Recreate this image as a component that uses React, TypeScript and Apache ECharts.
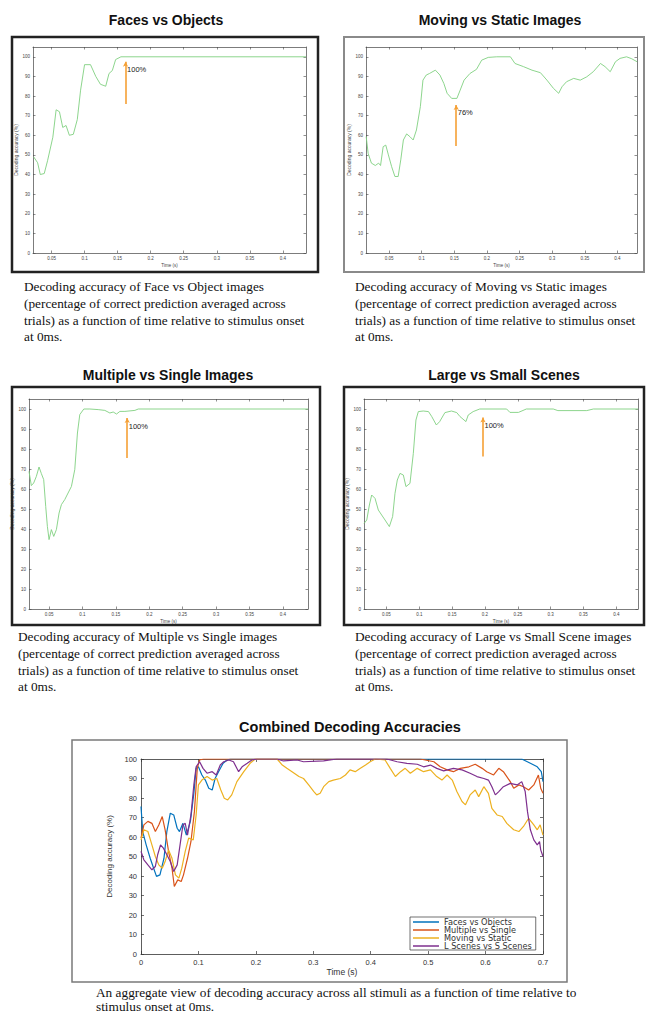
import React, { useEffect, useRef } from 'react';
import * as echarts from 'echarts';

const W = 646;
const H = 1013;

// ---------- Data (time in ms, accuracy in %) ----------
const facesT = [23, 29, 33, 39, 44, 52, 57, 62, 67, 72, 77, 83, 89, 94, 100, 109, 117, 124, 132, 137, 142, 147, 155, 435];
const facesV = [49, 46, 40, 40.5, 47, 59, 73, 72, 64, 65, 60, 60.5, 68, 83, 96, 96, 90, 86, 85, 91.5, 93, 98.6, 100, 100];

const movingT = [15, 18, 23, 29, 34, 37, 41, 45, 49, 54, 59, 64, 68, 72, 77, 82, 87, 92, 98, 102, 107, 112, 121, 128, 134, 139, 146, 154, 159, 165, 174, 184, 192, 202, 215, 236, 243, 256, 269, 282, 292, 302, 310, 315, 322, 333, 343, 353, 363, 374, 381, 389, 397, 404, 414, 422, 430];
const movingV = [59.3, 50.8, 45.8, 44.6, 45.8, 44.6, 54.2, 55, 50, 44, 39, 39, 47.5, 57.6, 60.7, 59.3, 57.6, 62.7, 74.6, 88.1, 90.7, 91.5, 93.2, 90.7, 86.4, 81.4, 78.8, 78.8, 83, 88.1, 91.5, 93.6, 98.3, 99.7, 100, 100, 96.6, 95, 93.2, 91.9, 88.1, 83.9, 81.4, 84.7, 87.3, 89, 88.1, 89.8, 92.4, 96.6, 95, 92.4, 97.5, 99.2, 100, 99, 97.5];

const multipleT = [20, 23.5, 27, 31, 35, 38.5, 42, 45, 47.5, 50, 53.5, 57, 61, 65, 68.5, 73.5, 78.5, 83.5, 88.5, 92.5, 96, 102, 111, 123.5, 133.5, 141, 146, 151, 156, 163.5, 178.5, 183.5, 437.5];
const multipleV = [68.8, 61.7, 63, 66.3, 71, 67.7, 64.7, 51.3, 41.3, 34.7, 39.7, 36.3, 39.7, 48, 52.2, 54.7, 58, 61.3, 69.7, 88, 97.2, 100, 100, 99.7, 99.3, 98, 98.5, 97.5, 98.8, 98.8, 99.3, 100, 100];

const scenesT = [16, 20, 24, 27.5, 32.6, 37.6, 42.7, 47.8, 54.4, 59.4, 63, 66.5, 70.6, 75.7, 79.7, 85.8, 90.9, 94.9, 98.5, 106, 114, 119, 126, 131, 139, 149, 157, 162, 171, 174.5, 182, 192, 233, 238, 251, 263, 304, 311, 355, 365, 433];
const scenesV = [42.8, 44.5, 52, 57, 55.3, 49.5, 47, 44.5, 41.2, 46.2, 57.8, 64.5, 67.8, 67, 61.2, 62.8, 77.8, 94.5, 98.7, 99, 98.7, 96.2, 92, 93.7, 98.2, 99, 98.2, 96.2, 93.7, 97, 98.7, 100, 100, 98.3, 98.3, 100, 100, 99.2, 99.2, 100, 100];

// arrows: time ms, from %, to %, label
const arrowTimes = [162, 153, 167, 197];
const arrowFrom = [76, 54.6, 75.5, 76.2];
const arrowTo = [97.5, 75.4, 95.5, 95.8];
const arrowLabels = ['100%', '76%', '100%', '100%'];

// combined
const combNames = ['Faces vs Objects', 'Multiple vs Single', 'Moving vs Static', 'L Scenes vs S Scenes'];
const blueT = [0, 3, 9, 16, 22, 27, 33, 40, 45, 51, 57, 63, 67, 73, 79, 86, 92, 96, 100, 106, 112, 118, 124, 129, 135, 143, 150, 156, 663, 678, 690, 697, 700];
const blueV = [75.6, 62.8, 56, 49.1, 44, 39.8, 40.6, 49.1, 62.8, 72.2, 71.3, 64.5, 62.8, 67, 61, 68, 82.4, 95.2, 96, 91.8, 89.2, 85, 84.1, 90, 93.5, 97.8, 99.5, 100, 100, 97.8, 96, 93.5, 88.4];
const orangeT = [0, 5, 12, 19, 25, 31, 37, 42, 48, 54, 58, 64, 70, 74, 81, 87, 93, 98, 102, 109, 486, 510, 521, 533, 544, 556, 571, 582, 594, 602, 614, 623, 631, 643, 649, 658, 666, 675, 684, 692, 696, 700];
const orangeV = [59.4, 66.2, 68, 67, 62.8, 66.2, 70.5, 63.7, 52.6, 44, 34.6, 38, 37.2, 40.6, 49.1, 57.7, 73, 95.2, 99.5, 100, 100, 98.6, 96, 94.4, 93.5, 95.2, 96, 97.3, 95.2, 93.5, 91.8, 95.2, 93.5, 88.4, 85, 86.7, 85.8, 84.1, 86.7, 91.8, 85, 82.4];
const yellowT = [0, 5, 12, 19, 25, 31, 37, 42, 48, 54, 60, 66, 71, 77, 83, 91, 96, 100, 106, 115, 124, 132, 139, 145, 151, 158, 167, 179, 190, 199, 237, 246, 254, 263, 275, 283, 292, 301, 306, 312, 318, 327, 335, 347, 356, 364, 373, 382, 391, 399, 408, 425, 434, 443, 452, 460, 469, 481, 492, 504, 515, 524, 533, 542, 550, 559, 565, 573, 582, 588, 597, 605, 611, 620, 629, 637, 649, 658, 666, 675, 684, 690, 695, 700];
const yellowV = [58.5, 63.7, 62.8, 56, 50, 45.7, 44, 47.4, 53.4, 49.1, 40.6, 38.9, 44, 52.6, 59.4, 58.5, 71.3, 86.7, 89.2, 91, 89.2, 90, 84.1, 79.9, 79, 81.6, 88.4, 93.5, 97.8, 100, 100, 96.9, 95.2, 93.5, 91, 90, 86.7, 83.3, 81.6, 82.4, 85.8, 88.4, 89.2, 90, 91.8, 94.4, 93.5, 95.2, 96.9, 98.6, 100, 99.5, 95.2, 91, 93.5, 95.2, 92.7, 95.2, 93.5, 94.4, 91, 89.2, 91.8, 89.2, 83.3, 78.2, 76.5, 81.6, 84.1, 80.7, 85.8, 82.4, 74.7, 71.3, 70.5, 67, 63.7, 62.8, 65.4, 69.6, 66.2, 63.7, 66.2, 61];
const purpleT = [0, 5, 12, 19, 25, 29, 34, 39, 45, 51, 57, 63, 68, 73, 77, 81, 87, 92, 96, 102, 108, 115, 124, 131, 138, 144, 153, 161, 170, 176, 185, 193, 202, 237, 248, 272, 283, 318, 341, 428, 446, 463, 481, 492, 504, 515, 527, 544, 559, 573, 585, 597, 605, 611, 617, 623, 631, 643, 655, 663, 669, 673, 678, 684, 690, 694, 696, 700];
const purpleV = [52.6, 48.3, 45.7, 43.2, 44.9, 50.9, 56, 54.3, 50.9, 47.4, 42.3, 45.7, 56, 66.2, 67, 61, 71.3, 86.7, 96, 98.6, 95.2, 92.7, 93.5, 91.8, 96.9, 98.6, 99.5, 98.6, 93.5, 96, 97.8, 99.5, 100, 100, 99, 99.5, 98.6, 99, 100, 100, 98.6, 97.8, 97.3, 96, 96.9, 95.2, 93.9, 95.2, 94.4, 92.7, 91, 90, 89.2, 85.8, 81.6, 83.3, 85.8, 87.5, 86.7, 88.4, 83.3, 73, 63.7, 58.5, 56, 57.7, 53.4, 50];

const smallXTicks = [0.05, 0.1, 0.15, 0.2, 0.25, 0.3, 0.35, 0.4];
const smallYTicks = [0, 10, 20, 30, 40, 50, 60, 70, 80, 90, 100];

const panelTitles = ['Faces vs Objects', 'Moving vs Static Images', 'Multiple vs Single Images', 'Large vs Small Scenes'];
const panelCaptions = [
  'Decoding accuracy of Face vs Object images\n(percentage of correct prediction averaged across\ntrials) as a function of time relative to stimulus onset\nat 0ms.',
  'Decoding accuracy of Moving vs Static images\n(percentage of correct prediction averaged across\ntrials) as a function of time relative to stimulus onset\nat 0ms.',
  'Decoding accuracy of Multiple vs Single images\n(percentage of correct prediction averaged across\ntrials) as a function of time relative to stimulus onset\nat 0ms.',
  'Decoding accuracy of Large vs Small Scene images\n(percentage of correct prediction averaged across\ntrials) as a function of time relative to stimulus onset\nat 0ms.',
];
const combTitle = 'Combined Decoding Accuracies';
const combCaption = 'An aggregate view of decoding accuracy across all stimuli as a function of time relative to\nstimulus onset at 0ms.';

// ---------- Layout ----------
const panels = [
  { grid: { left: 33, top: 47, width: 273, height: 206 }, xMin: 0.022, xMax: 0.435, frame: [12, 37, 306, 235], frameColor: '#222', frameW: 2.5, title: [166, 20], cap: [24, 278] },
  { grid: { left: 366, top: 47, width: 271, height: 206 }, xMin: 0.0147, xMax: 0.43, frame: [344, 37, 300, 235], frameColor: '#8a8a8a', frameW: 2, title: [500, 20], cap: [355, 278] },
  { grid: { left: 29, top: 399, width: 279, height: 210 }, xMin: 0.02, xMax: 0.4375, frame: [12, 387, 308, 238], frameColor: '#222', frameW: 2.5, title: [168, 375], cap: [18, 628] },
  { grid: { left: 364, top: 399, width: 274, height: 210 }, xMin: 0.0158, xMax: 0.433, frame: [344, 387, 300, 238], frameColor: '#222', frameW: 2.5, title: [504, 375], cap: [355, 628] },
];
const panelData = [[facesT, facesV], [movingT, movingV], [multipleT, multipleV], [scenesT, scenesV]];
const combData = [[blueT, blueV], [orangeT, orangeV], [yellowT, yellowV], [purpleT, purpleV]];
const combColors = ['#0072BD', '#D95319', '#EDB120', '#7E2F8E'];

const pairs = (t: number[], v: number[]) => {
  const n = Math.min(t.length, v.length);
  const out: number[][] = [];
  for (let i = 0; i < n; i++) out.push([t[i] / 1000, v[i]]);
  return out;
};

const SANS = 'Liberation Sans';
const SERIF = 'Liberation Serif';
const DEJA = 'DejaVu Sans';
const AX = '#444';

function buildOption() {
  const grids: any[] = [];
  const xAxes: any[] = [];
  const yAxes: any[] = [];
  const series: any[] = [];
  const graphics: any[] = [];

  panels.forEach((p, i) => {
    grids.push({ ...p.grid, show: false, containLabel: false });
    const fmt = (v: number) => String(+v.toFixed(2));
    const baseX = {
      gridIndex: i, type: 'value', min: p.xMin, max: p.xMax,
      axisLine: { show: true, onZero: false, lineStyle: { color: AX, width: 0.7 } },
      axisTick: { show: true, inside: true, length: 2.5, customValues: smallXTicks, lineStyle: { color: AX, width: 0.6 } },
      splitLine: { show: false },
    };
    xAxes.push({
      ...baseX, position: 'bottom',
      axisLabel: { customValues: smallXTicks, fontSize: 4.5, color: AX, margin: 3, fontFamily: SANS, formatter: fmt },
      name: 'Time (s)', nameLocation: 'middle', nameGap: 10, nameTextStyle: { fontSize: 4.5, color: AX, fontFamily: SANS },
    });
    xAxes.push({ ...baseX, position: 'top', axisLabel: { show: false } });
    const baseY = {
      gridIndex: i, type: 'value', min: 0, max: 105,
      axisLine: { show: true, onZero: false, lineStyle: { color: AX, width: 0.7 } },
      axisTick: { show: true, inside: true, length: 2.5, customValues: smallYTicks, lineStyle: { color: AX, width: 0.6 } },
      splitLine: { show: false },
    };
    yAxes.push({
      ...baseY, position: 'left',
      axisLabel: { customValues: smallYTicks, fontSize: 4.5, color: AX, margin: 3, fontFamily: SANS },
      name: 'Decoding accuracy (%)', nameLocation: 'middle', nameGap: 13, nameTextStyle: { fontSize: 5, color: AX, fontFamily: SANS },
    });
    yAxes.push({ ...baseY, position: 'right', axisLabel: { show: false } });

    const [t, v] = panelData[i];
    const at = arrowTimes[i] / 1000;
    series.push({
      type: 'line', name: 'panel' + i, xAxisIndex: 2 * i, yAxisIndex: 2 * i,
      data: pairs(t, v), showSymbol: false, symbol: 'none',
      lineStyle: { color: '#80d080', width: 0.9 }, itemStyle: { color: '#80d080' },
      markLine: {
        silent: true, symbol: ['none', 'arrow'], symbolSize: [4, 5], precision: 4,
        lineStyle: { color: '#F5A035', width: 1.6, type: 'solid' },
        label: { show: false },
        emphasis: { disabled: true },
        data: [[{ coord: [at, arrowFrom[i]] }, { coord: [at, arrowTo[i]] }]],
      },
      markPoint: {
        silent: true, symbol: 'circle', symbolSize: 1,
        itemStyle: { color: 'rgba(0,0,0,0)' },
        label: { show: true, position: 'right', distance: 1, formatter: arrowLabels[i], fontSize: 7.5, color: '#222', fontFamily: SANS },
        data: [{ coord: [at, arrowTo[i] - 4] }],
      },
    });

    graphics.push({
      type: 'rect', shape: { x: p.frame[0], y: p.frame[1], width: p.frame[2], height: p.frame[3] },
      style: { fill: 'none', stroke: p.frameColor, lineWidth: p.frameW }, silent: true, z: 10,
    });
    graphics.push({
      type: 'text', x: p.title[0], y: p.title[1],
      style: { text: panelTitles[i], fontSize: 14, fontWeight: 'bold', fontFamily: SANS, fill: '#111', align: 'center', verticalAlign: 'middle' },
    });
    graphics.push({
      type: 'text', x: p.cap[0], y: p.cap[1],
      style: { text: panelCaptions[i], fontSize: 13.3, fontFamily: SERIF, fill: '#111', lineHeight: 16.8, align: 'left', verticalAlign: 'top' },
    });
  });

  // combined panel
  const ci = 4;
  grids.push({ left: 141, top: 759, width: 402, height: 195, show: false });
  const cbx = {
    gridIndex: ci, type: 'value', min: 0, max: 0.7, interval: 0.1,
    axisLine: { show: true, onZero: false, lineStyle: { color: '#333', width: 0.8 } },
    axisTick: { show: true, inside: true, length: 3, lineStyle: { color: '#333', width: 0.7 } },
    splitLine: { show: false },
  };
  xAxes.push({
    ...cbx, position: 'bottom',
    axisLabel: { fontSize: 7.5, color: '#333', margin: 4, fontFamily: SANS, formatter: (v: number) => (v === 0 ? '0' : v.toFixed(1)) },
    name: 'Time (s)', nameLocation: 'middle', nameGap: 13, nameTextStyle: { fontSize: 8.5, color: '#333', fontFamily: SANS },
  });
  xAxes.push({ ...cbx, position: 'top', axisLabel: { show: false } });
  const cby = {
    gridIndex: ci, type: 'value', min: 0, max: 100, interval: 10,
    axisLine: { show: true, onZero: false, lineStyle: { color: '#333', width: 0.8 } },
    axisTick: { show: true, inside: true, length: 3, lineStyle: { color: '#333', width: 0.7 } },
    splitLine: { show: false },
  };
  yAxes.push({
    ...cby, position: 'left',
    axisLabel: { fontSize: 7.5, color: '#333', margin: 4, fontFamily: SANS },
    name: 'Decoding accuracy (%)', nameLocation: 'middle', nameGap: 25, nameTextStyle: { fontSize: 8, color: '#333', fontFamily: SANS },
  });
  yAxes.push({ ...cby, position: 'right', axisLabel: { show: false } });

  combData.forEach(([t, v], k) => {
    series.push({
      type: 'line', name: combNames[k], xAxisIndex: 2 * ci, yAxisIndex: 2 * ci,
      data: pairs(t, v), showSymbol: false, symbol: 'none',
      lineStyle: { color: combColors[k], width: 1.2 }, itemStyle: { color: combColors[k] },
    });
  });

  graphics.push({
    type: 'rect', shape: { x: 72, y: 740, width: 495, height: 242 },
    style: { fill: 'none', stroke: '#7a7a7a', lineWidth: 1.5 }, silent: true, z: 10,
  });
  graphics.push({
    type: 'text', x: 350, y: 727,
    style: { text: combTitle, fontSize: 14.5, fontWeight: 'bold', fontFamily: SANS, fill: '#111', align: 'center', verticalAlign: 'middle' },
  });
  graphics.push({
    type: 'text', x: 96, y: 985,
    style: { text: combCaption, fontSize: 13.3, fontFamily: SERIF, fill: '#111', lineHeight: 14.5, align: 'left', verticalAlign: 'top' },
  });

  return {
    animation: false,
    backgroundColor: '#fff',
    grid: grids,
    xAxis: xAxes,
    yAxis: yAxes,
    series,
    legend: {
      data: combNames, orient: 'vertical', left: 410, top: 917,
      itemWidth: 26, itemHeight: 1.5, itemGap: 0, icon: 'rect',
      padding: [1, 4, 0, 3], borderColor: '#333', borderWidth: 0.7, backgroundColor: '#fff',
      textStyle: { fontSize: 8.2, color: '#333', fontFamily: DEJA, lineHeight: 6.6, height: 6.6 },
      selectedMode: false,
    },
    graphic: graphics,
  };
}

export default function App() {
  const ref = useRef<HTMLDivElement>(null);
  useEffect(() => {
    if (!ref.current) return;
    const chart = echarts.init(ref.current, null, { renderer: 'svg', width: W, height: H });
    chart.setOption(buildOption() as any);
    return () => chart.dispose();
  }, []);
  return <div ref={ref} style={{ position: 'absolute', left: 0, top: 0, width: W, height: H, background: '#fff' }} />;
}
